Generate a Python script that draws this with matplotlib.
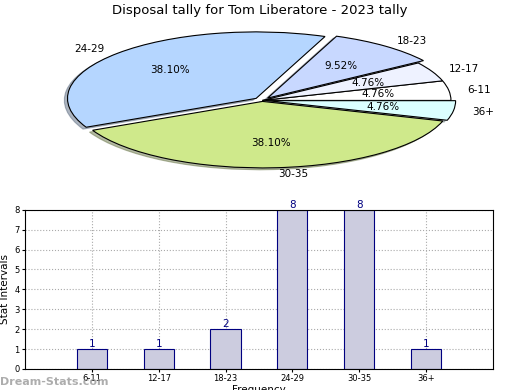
import matplotlib
matplotlib.use('Agg')
import matplotlib.pyplot as plt
import numpy as np

categorias = ['6-11', '12-17', '18-23', '24-29', '30-35', '36+']
valores = [1, 1, 2, 8, 8, 1]
colores_pie = ['#ffffff', '#eef2ff', '#c8d8ff', '#b5d6ff', '#cfe98b', '#dbffff']
separacion = [0.0, 0.0, 0.045, 0.045, 0.015, 0.025]

fig = plt.figure(figsize=(5.2, 3.9), dpi=100)
fig.text(0.5, 0.965, 'Disposal tally for Tom Liberatore - 2023 tally', ha='center', fontsize=9.5)

# Pie achatada (aspect auto)
ax1 = fig.add_axes([0.1055, 0.555, 0.798, 0.375])
wedges, texts, autotexts = ax1.pie(valores, labels=categorias, colors=colores_pie, explode=separacion,
                                   autopct='%.2f%%', pctdistance=0.62, labeldistance=1.1,
                                   startangle=0, shadow={'ox': -0.012, 'oy': -0.02, 'shade': 0.5},
                                   wedgeprops={'edgecolor': 'black', 'linewidth': 0.8},
                                   textprops={'fontsize': 7.5})
ax1.set_aspect('auto')
ax1.set_xlim(-1.1, 1.1)
ax1.set_ylim(-1.1, 1.1)

# Barras
ax2 = fig.add_axes([0.048, 0.054, 0.9, 0.408])
pos = np.arange(1, len(categorias) + 1)
ax2.bar(pos, valores, width=0.45, color='#ccccdf', edgecolor='navy', linewidth=0.8, zorder=2)
for x, v in zip(pos, valores):
    ax2.text(x, v, str(v), ha='center', va='bottom', color='navy', fontsize=7.5)
ax2.set_xlim(0, 7)
ax2.set_ylim(0, 8)
ax2.set_xticks(pos)
ax2.set_xticklabels(categorias)
ax2.set_yticks(range(0, 9))
ax2.tick_params(labelsize=6, length=2, pad=2)
ax2.grid(True, linestyle=':', color='#aaaaaa', linewidth=0.8, zorder=0)
ax2.set_ylabel('Stat Intervals', fontsize=7.5, labelpad=3)
ax2.set_xlabel('Frequency', fontsize=7.5, labelpad=1)

fig.text(0.0, 0.012, 'Dream-Stats.com', color='#999999', fontsize=8, fontweight='bold', alpha=0.8)

fig.savefig('out.png', dpi=100)
